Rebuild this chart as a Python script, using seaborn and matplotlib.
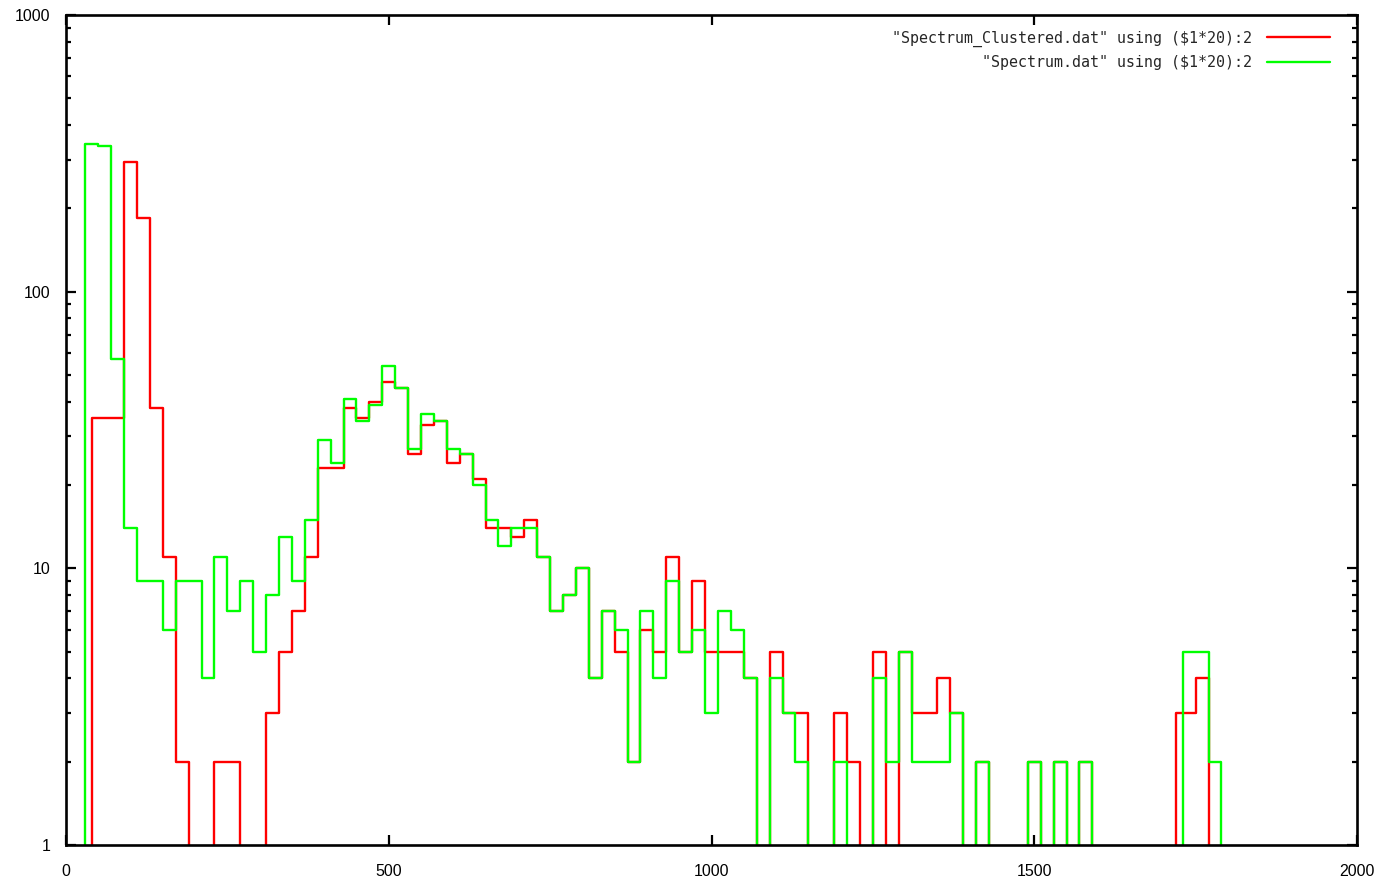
import numpy as np
import pandas as pd
import matplotlib
matplotlib.use("Agg")
import matplotlib.pyplot as plt
import seaborn as sns
from matplotlib.ticker import FixedLocator, NullLocator, LogLocator, FuncFormatter, NullFormatter

# Column 1 of each .dat file is the channel index, scaled by 20 on the x axis
SCALE = 20

# Spectrum_Clustered.dat: channel index and counts (no rows for channels 2 and 86)
clustered_channel = [
    1, 3, 4, 5, 6, 7, 8, 9, 10, 11, 12, 13, 14, 15, 16, 17, 18, 19, 20,
    21, 22, 23, 24, 25, 26, 27, 28, 29, 30, 31, 32, 33, 34, 35, 36, 37, 38, 39, 40,
    41, 42, 43, 44, 45, 46, 47, 48, 49, 50, 51, 52, 53, 54, 55, 56, 57, 58, 59, 60,
    61, 62, 63, 64, 65, 66, 67, 68, 69, 70, 71, 72, 73, 74, 75, 76, 77, 78, 79, 80,
    81, 82, 83, 84, 85, 87, 88, 89, 90,
]
clustered_counts = [
    0, 35, 35, 294, 185, 38, 11, 2, 0, 0, 2, 2, 0, 0, 3, 5, 7, 11, 23,
    23, 38, 35, 40, 47, 45, 26, 33, 34, 24, 26, 21, 14, 14, 13, 15, 11, 7, 8, 10,
    4, 7, 5, 2, 6, 5, 11, 5, 9, 5, 5, 5, 4, 0, 5, 3, 3, 0, 0, 3,
    2, 0, 5, 0, 5, 3, 3, 4, 3, 0, 2, 0, 0, 0, 2, 0, 2, 0, 2, 0,
    0, 0, 0, 0, 0, 3, 4, 0, 0,
]

# Spectrum.dat: channel index and counts
spectrum_channel = list(range(1, 91))
spectrum_counts = [
    0, 343, 337, 57, 14, 9, 9, 6, 9, 9, 4, 11, 7, 9, 5, 8, 13, 9, 15, 29,
    24, 41, 34, 39, 54, 45, 27, 36, 34, 27, 26, 20, 15, 12, 14, 14, 11, 7, 8, 10,
    4, 7, 6, 2, 7, 4, 9, 5, 6, 3, 7, 6, 4, 0, 4, 3, 2, 0, 0, 2,
    0, 0, 4, 2, 5, 2, 2, 2, 3, 0, 2, 0, 0, 0, 2, 0, 2, 0, 2, 0,
    0, 0, 0, 0, 0, 0, 5, 5, 2, 0,
]

series_labels = [
    '"Spectrum_Clustered.dat" using ($1*20):2',
    '"Spectrum.dat" using ($1*20):2',
]
series_colors = ["#ff0000", "#00ff00"]

x_ticks = [0, 500, 1000, 1500, 2000]

sns.set_theme(style="ticks")
plt.rcParams["font.family"] = ["Liberation Sans", "DejaVu Sans"]

fig = plt.figure(figsize=(13.82, 8.81), dpi=100)
ax = fig.add_axes([66 / 1382, 36 / 881, 1291 / 1382, 830 / 881])

datasets = [
    (clustered_channel, clustered_counts),
    (spectrum_channel, spectrum_counts),
]
for (channel, counts), label, color in zip(datasets, series_labels, series_colors):
    df = pd.DataFrame({"energy": np.asarray(channel) * SCALE, "counts": counts})
    sns.lineplot(data=df, x="energy", y="counts", estimator=None, sort=False,
                 drawstyle="steps-mid", color=color, linewidth=1.7,
                 label=label, ax=ax)

# Log axis; empty channels are clipped so their steps drop to the bottom edge
ax.set_yscale("log", nonpositive="clip")
ax.set_xlim(0, 2000)
ax.set_ylim(1, 1000)
ax.set_xlabel("")
ax.set_ylabel("")

ax.xaxis.set_major_locator(FixedLocator(x_ticks))
ax.xaxis.set_minor_locator(NullLocator())
ax.yaxis.set_major_locator(LogLocator(base=10))
ax.yaxis.set_minor_locator(LogLocator(base=10, subs=range(2, 10)))
ax.yaxis.set_major_formatter(FuncFormatter(lambda v, p: f"{v:g}"))
ax.yaxis.set_minor_formatter(NullFormatter())

ax.tick_params(which="both", direction="in", top=True, right=True,
               color="black", width=1.6, labelsize=11.5, labelcolor="black")
ax.tick_params(which="major", length=7)
ax.tick_params(which="minor", length=3.6)
ax.tick_params(axis="y", which="major", pad=11)
ax.tick_params(axis="x", which="major", pad=14)

for spine in ax.spines.values():
    spine.set_color("black")
    spine.set_linewidth(1.9)
    spine.set_visible(True)

handles, labels = ax.get_legend_handles_labels()
ax.legend(handles, labels, loc="upper right", bbox_to_anchor=(0.979, 0.9815),
          frameon=False, markerfirst=False,
          prop={"family": "DejaVu Sans Mono", "size": 10.8},
          handlelength=4.2, handletextpad=1.0, labelspacing=0.57,
          borderpad=0, borderaxespad=0)

fig.savefig("out.png", dpi=100, facecolor="white")
